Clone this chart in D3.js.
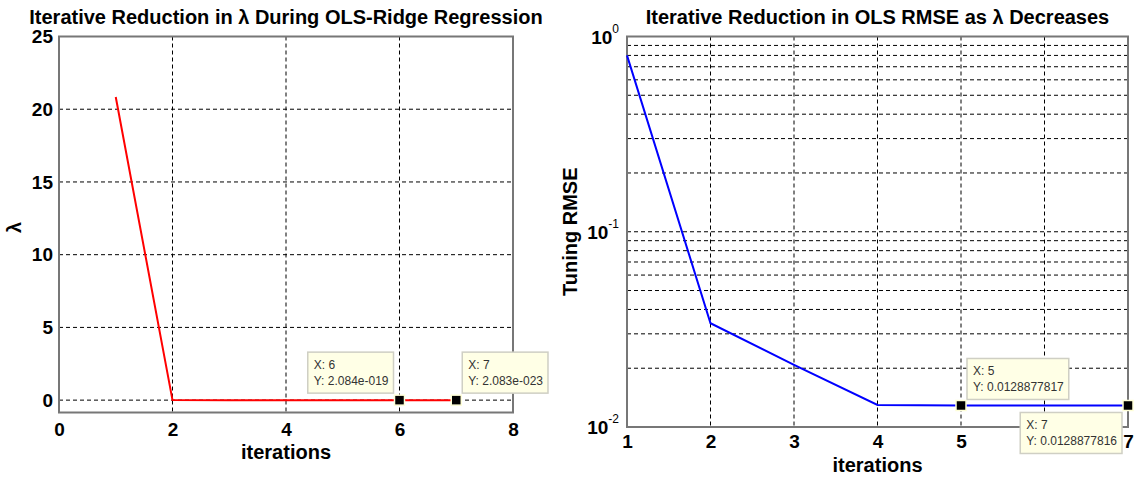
<!DOCTYPE html>
<html>
<head>
<meta charset="utf-8">
<script src="https://cdn.jsdelivr.net/npm/d3@7"></script>
<style>
  body { margin:0; background:#fff; }
  svg { font-family: "Liberation Sans", Arial, sans-serif; }
</style>
</head>
<body>
<div class="svg-container"></div>
<script>
// data
const iterations = [1, 2, 3, 4, 5, 6, 7];
const lambdaVals = [20.84, 2.084e-3, 2.084e-7, 2.084e-11, 2.084e-15, 2.084e-19, 2.083e-23];
const rmseVals = [0.80, 0.034, 0.0208, 0.01297, 0.0128877817, 0.01288778165, 0.0128877816];

const lambdaXTicks = [0, 2, 4, 6, 8];
const lambdaYTicks = [0, 5, 10, 15, 20, 25];
const rmseXTicks = [1, 2, 3, 4, 5, 6, 7];
const rmseXLabels = [1, 2, 3, 4, 5, 7]; // the 6 is hidden behind a data tip
const rmseMajor = [1, 0.1, 0.01];
const rmseExp = ['0', '-1', '-2'];

// data tips
const lambdaTips = [
  { x: 6, y: 2.084e-19, lines: ['X: 6', 'Y: 2.084e-019'], side: 'left', dy: -48 },
  { x: 7, y: 2.083e-23, lines: ['X: 7', 'Y: 2.083e-023'], side: 'right', dy: -48 }
];
const rmseTips = [
  { x: 5, y: 0.0128877817, lines: ['X: 5', 'Y: 0.0128877817'], side: 'right', dy: -47 },
  { x: 7, y: 0.0128877816, lines: ['X: 7', 'Y: 0.0128877816'], side: 'left', dy: 7 }
];

const W = 1139, H = 477;
const svg = d3.select('.svg-container')
  .append('svg')
  .attr('width', W)
  .attr('height', H);

const boxColor = '#777';
const tickFont = 19;
const labelFont = 20;

// draws the data tips
function drawTips(g, tips, xScale, yScale) {
  tips.forEach(t => {
    const mx = xScale(t.x), my = yScale(t.y);
    const tg = g.append('g');
    const txt = tg.selectAll('text')
      .data(t.lines)
      .join('text')
      .attr('font-size', 12)
      .attr('fill', '#333')
      .text(d => d);
    const tw = d3.max(txt.nodes(), n => n.getComputedTextLength());
    const bw = tw + 11, bh = 41;
    const bx = t.side === 'right' ? mx + 6 : mx - 6 - bw;
    const by = my + t.dy;
    tg.insert('rect', 'text')
      .attr('x', bx).attr('y', by)
      .attr('width', bw).attr('height', bh)
      .attr('fill', '#ffffe6')
      .attr('stroke', '#cfcfc4')
      .attr('stroke-width', 1.5);
    txt.attr('x', bx + 6).attr('y', (d, i) => by + 17 + i * 16);
    g.append('rect')
      .attr('x', mx - 5).attr('y', my - 5)
      .attr('width', 10).attr('height', 10)
      .attr('fill', '#000')
      .attr('stroke', '#ffffd8')
      .attr('stroke-width', 1.5);
  });
}

function styleTicks(a) {
  a.select('.domain').remove();
  a.selectAll('text').attr('font-size', tickFont).attr('font-weight', 'bold')
    .attr('font-family', '"Liberation Sans", Arial, sans-serif').attr('fill', '#000');
}

// ---------- left: lambda ----------
const L = { left: 59, right: 513, top: 36.5, bottom: 412.5 };
const xL = d3.scaleLinear().domain([0, 8]).range([L.left, L.right]);
const yL = d3.scaleLinear().domain([-0.85, 25]).range([L.bottom, L.top]);
const gL = svg.append('g');

// grid
gL.selectAll('.vgrid')
  .data(lambdaXTicks.slice(1, -1))
  .join('line')
  .attr('x1', d => xL(d)).attr('x2', d => xL(d))
  .attr('y1', L.top).attr('y2', L.bottom)
  .attr('stroke', '#000').attr('stroke-dasharray', '4,3').attr('stroke-width', 1);
gL.selectAll('.hgrid')
  .data(lambdaYTicks)
  .join('line')
  .attr('x1', L.left).attr('x2', L.right)
  .attr('y1', d => yL(d)).attr('y2', d => yL(d))
  .attr('stroke', '#000').attr('stroke-dasharray', '4,3').attr('stroke-width', 1);

gL.append('rect')
  .attr('x', L.left).attr('y', L.top)
  .attr('width', L.right - L.left).attr('height', L.bottom - L.top)
  .attr('fill', 'none').attr('stroke', boxColor).attr('stroke-width', 2);

const axL = gL.append('g')
  .attr('transform', `translate(0,${L.bottom})`)
  .call(d3.axisBottom(xL).tickValues(lambdaXTicks).tickSize(0).tickPadding(10));
const ayL = gL.append('g')
  .attr('transform', `translate(${L.left},0)`)
  .call(d3.axisLeft(yL).tickValues(lambdaYTicks).tickSize(0).tickPadding(6));
styleTicks(axL);
styleTicks(ayL);

// line
gL.append('path')
  .datum(iterations.map((d, i) => [d, lambdaVals[i]]))
  .attr('d', d3.line().x(d => xL(d[0])).y(d => yL(d[1])))
  .attr('fill', 'none').attr('stroke', '#ff0000').attr('stroke-width', 2);

drawTips(gL, lambdaTips, xL, yL);

gL.append('text')
  .attr('x', (L.left + L.right) / 2).attr('y', 24)
  .attr('text-anchor', 'middle').attr('font-size', labelFont).attr('font-weight', 'bold')
  .text('Iterative Reduction in λ During OLS-Ridge Regression');
gL.append('text')
  .attr('x', (L.left + L.right) / 2).attr('y', 459)
  .attr('text-anchor', 'middle').attr('font-size', labelFont).attr('font-weight', 'bold')
  .text('iterations');
gL.append('text')
  .attr('transform', `translate(21,${(L.top + L.bottom) / 2 + 3}) rotate(-90)`)
  .attr('text-anchor', 'middle').attr('font-size', labelFont).attr('font-weight', 'bold')
  .text('λ');

// ---------- right: RMSE ----------
const R = { left: 627, right: 1128, top: 36.5, bottom: 427 };
const xR = d3.scaleLinear().domain([1, 7]).range([R.left, R.right]);
const yR = d3.scaleLog().domain([0.01, 1]).range([R.bottom, R.top]);
const gR = svg.append('g');

const logGrid = yR.ticks().filter(d => d > 0.01 && d < 1);
gR.selectAll('.vgrid')
  .data(rmseXTicks.slice(1, -1))
  .join('line')
  .attr('x1', d => xR(d)).attr('x2', d => xR(d))
  .attr('y1', R.top).attr('y2', R.bottom)
  .attr('stroke', '#000').attr('stroke-dasharray', '4,3').attr('stroke-width', 1);
gR.selectAll('.hgrid')
  .data(logGrid)
  .join('line')
  .attr('x1', R.left).attr('x2', R.right)
  .attr('y1', d => yR(d)).attr('y2', d => yR(d))
  .attr('stroke', '#000').attr('stroke-dasharray', '4,3').attr('stroke-width', 1);

gR.append('rect')
  .attr('x', R.left).attr('y', R.top)
  .attr('width', R.right - R.left).attr('height', R.bottom - R.top)
  .attr('fill', 'none').attr('stroke', boxColor).attr('stroke-width', 2);

const axR = gR.append('g')
  .attr('transform', `translate(0,${R.bottom})`)
  .call(d3.axisBottom(xR).tickValues(rmseXLabels).tickFormat(d3.format('d')).tickSize(0).tickPadding(8));
styleTicks(axR);

// 10^n labels
const yLab = gR.selectAll('.ylab')
  .data(rmseMajor)
  .join('text')
  .attr('class', 'ylab')
  .attr('x', R.left - 8)
  .attr('y', d => yR(d) + 7)
  .attr('text-anchor', 'end')
  .attr('font-size', tickFont).attr('font-weight', 'bold');
yLab.append('tspan').text('10');
yLab.append('tspan')
  .attr('dy', -11)
  .attr('font-size', 12).attr('font-weight', 'normal')
  .text((d, i) => rmseExp[i]);

gR.append('path')
  .datum(iterations.map((d, i) => [d, rmseVals[i]]))
  .attr('d', d3.line().x(d => xR(d[0])).y(d => yR(d[1])))
  .attr('fill', 'none').attr('stroke', '#0000ff').attr('stroke-width', 2);

drawTips(gR, rmseTips, xR, yR);

gR.append('text')
  .attr('x', (R.left + R.right) / 2).attr('y', 24)
  .attr('text-anchor', 'middle').attr('font-size', labelFont).attr('font-weight', 'bold')
  .text('Iterative Reduction in OLS RMSE as λ Decreases');
gR.append('text')
  .attr('x', (R.left + R.right) / 2).attr('y', 472)
  .attr('text-anchor', 'middle').attr('font-size', labelFont).attr('font-weight', 'bold')
  .text('iterations');
gR.append('text')
  .attr('transform', `translate(577,${(R.top + R.bottom) / 2}) rotate(-90)`)
  .attr('text-anchor', 'middle').attr('font-size', labelFont).attr('font-weight', 'bold')
  .text('Tuning RMSE');
</script>
</body>
</html>
